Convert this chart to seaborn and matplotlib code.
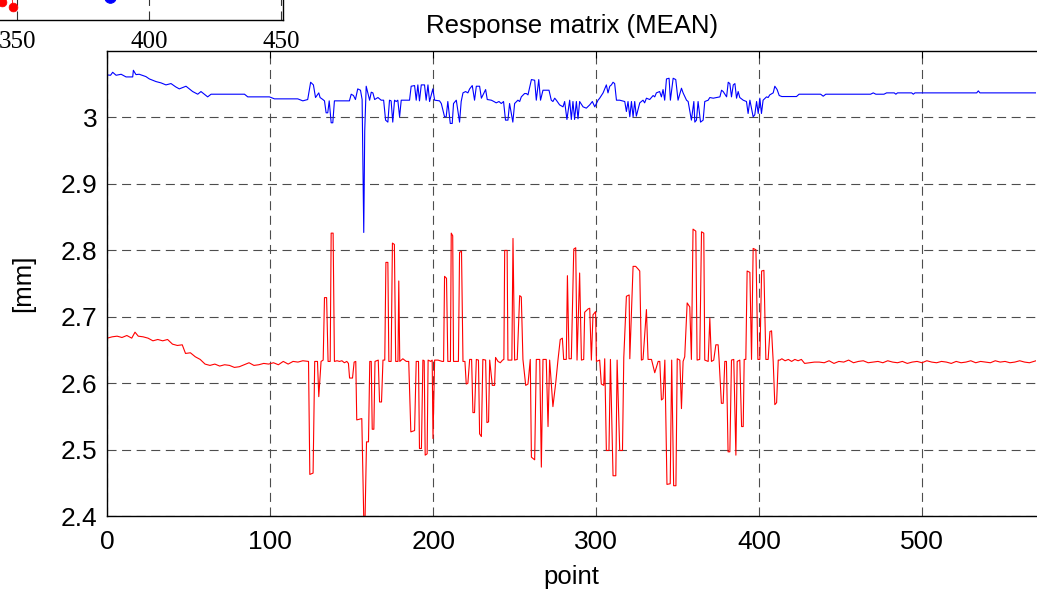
import numpy as np
import pandas as pd
import matplotlib
matplotlib.use("Agg")
import matplotlib.pyplot as plt
import seaborn as sns

# ---- data (point index, value in mm) ----
red_pts = [
    (0, 2.668), (3, 2.670), (6, 2.671), (9, 2.669), (12, 2.672), (15, 2.668), (17, 2.677), (19, 2.671),
    (22, 2.670), (25, 2.668), (28, 2.664), (31, 2.666), (34, 2.664), (37, 2.666), (40, 2.659), (43, 2.657),
    (46, 2.658), (48, 2.645), (51, 2.646), (54, 2.640), (57, 2.636), (60, 2.629), (63, 2.627), (66, 2.629),
    (69, 2.626), (72, 2.628), (75, 2.627), (78, 2.624), (81, 2.625), (84, 2.628), (87, 2.631), (90, 2.627),
    (93, 2.628), (96, 2.630), (99, 2.629), (102, 2.631), (105, 2.628), (108, 2.633), (111, 2.629), (114, 2.633),
    (117, 2.632), (120, 2.634), (123.5, 2.633),
    (124.3, 2.463), (126.3, 2.465), (127.3, 2.633), (129.0, 2.633), (129.8, 2.580), (131.2, 2.633), (132.5, 2.635),
    (133.3, 2.729), (134.6, 2.729), (135.5, 2.633), (136.8, 2.633), (137.4, 2.826), (138.6, 2.826), (139.4, 2.633),
    (141.0, 2.634), (142.5, 2.633), (144.0, 2.634), (145.5, 2.631), (147.0, 2.633), (148.0, 2.630), (148.7, 2.608),
    (150.5, 2.608), (151.5, 2.632), (152.5, 2.633), (153.1, 2.545), (156.2, 2.547), (157.4, 2.397), (158.2, 2.397),
    (159.1, 2.512), (160.3, 2.512), (161.1, 2.633), (162.0, 2.633), (162.6, 2.531), (163.6, 2.531), (164.3, 2.633),
    (166.3, 2.635), (167.1, 2.572), (168.3, 2.572), (169.2, 2.635), (170.3, 2.635), (171.0, 2.782), (172.2, 2.782),
    (172.8, 2.633), (174.2, 2.633), (175.0, 2.811), (176.2, 2.809), (177.0, 2.633), (178.4, 2.633), (178.9, 2.754),
    (179.5, 2.633), (181.4, 2.637), (183.5, 2.633), (185.0, 2.633), (186.3, 2.527), (188.6, 2.529), (189.6, 2.633),
    (191.0, 2.633), (191.6, 2.502), (192.8, 2.502), (193.7, 2.635), (194.5, 2.634), (195.1, 2.492), (196.3, 2.494),
    (196.9, 2.635), (198.5, 2.633), (199.4, 2.635), (199.9, 2.517), (200.9, 2.635), (203.0, 2.635), (205.5, 2.633),
    (206.4, 2.633), (207.0, 2.761), (208.2, 2.758), (209.0, 2.633), (210.6, 2.633), (211.1, 2.826), (212.0, 2.822),
    (212.5, 2.633), (215.5, 2.633), (216.2, 2.797), (217.4, 2.799), (218.3, 2.633), (219.5, 2.633), (220.3, 2.599),
    (221.3, 2.600), (222.4, 2.636), (223.6, 2.636), (224.4, 2.556), (225.4, 2.556), (226.5, 2.636), (227.8, 2.635),
    (228.5, 2.524), (229.6, 2.520), (230.5, 2.636), (232.2, 2.635), (233.0, 2.541), (234.0, 2.542), (234.7, 2.635),
    (236.3, 2.597), (237.7, 2.597), (238.3, 2.639), (239.8, 2.633), (241.2, 2.631), (242.6, 2.635), (243.4, 2.636),
    (243.9, 2.800), (245.4, 2.800), (245.9, 2.635), (248.3, 2.635), (249.0, 2.818), (250.0, 2.635), (251.6, 2.636),
    (253.1, 2.732), (254.1, 2.730), (255.1, 2.636), (256.8, 2.597), (258.2, 2.599), (259.6, 2.636), (260.3, 2.489),
    (262.3, 2.485), (263.3, 2.636), (265.4, 2.636), (266.4, 2.474), (267.4, 2.636), (269.4, 2.636), (270.5, 2.535),
    (271.5, 2.635), (273.5, 2.565), (275.2, 2.600), (276.6, 2.635), (278.0, 2.666), (279.3, 2.668), (280.1, 2.636),
    (281.7, 2.636), (282.4, 2.762), (283.4, 2.637), (284.8, 2.637), (286.3, 2.802), (287.5, 2.804), (288.3, 2.635),
    (289.9, 2.766), (291.0, 2.635), (292.4, 2.636), (293.0, 2.707), (295.1, 2.712), (296.1, 2.713), (297.1, 2.635),
    (298.1, 2.703), (299.7, 2.708), (300.2, 2.633), (302.2, 2.635), (303.2, 2.599), (304.7, 2.597), (305.3, 2.637),
    (306.3, 2.499), (307.9, 2.499), (308.8, 2.636), (310.4, 2.461), (312.1, 2.461), (312.9, 2.635), (314.5, 2.499),
    (316.2, 2.499), (317.0, 2.639), (318.6, 2.731), (320.3, 2.733), (320.7, 2.637), (322.7, 2.776), (324.3, 2.776),
    (325.8, 2.772), (326.8, 2.769), (327.8, 2.635), (328.8, 2.636), (330.9, 2.711), (331.9, 2.636), (334.0, 2.636),
    (336.0, 2.616), (338.1, 2.633), (339.1, 2.633), (340.1, 2.575), (341.1, 2.577), (342.2, 2.635), (343.5, 2.448),
    (345.5, 2.449), (346.4, 2.635), (347.6, 2.446), (349.0, 2.446), (349.8, 2.637),
    (351.4, 2.635), (352.4, 2.562), (353.4, 2.633), (354.4, 2.640), (355.9, 2.721), (357.5, 2.715), (358.5, 2.636),
    (359.5, 2.832), (361.2, 2.829), (362.0, 2.635), (363.6, 2.636), (364.7, 2.828), (366.1, 2.826), (366.7, 2.635),
    (368.8, 2.633), (369.8, 2.698), (370.8, 2.633), (372.2, 2.635), (373.5, 2.658), (374.9, 2.658), (375.5, 2.635),
    (376.9, 2.570), (378.0, 2.570), (379.0, 2.633), (380.0, 2.633), (381.0, 2.497), (382.1, 2.497), (383.1, 2.635),
    (384.5, 2.636), (385.8, 2.492), (386.6, 2.633), (388.2, 2.635), (389.3, 2.535), (390.3, 2.535), (390.9, 2.636),
    (391.9, 2.636), (392.7, 2.769), (394.4, 2.767), (395.4, 2.636), (396.4, 2.803), (398.1, 2.801), (399.3, 2.636),
    (400.5, 2.636), (401.6, 2.769), (403.0, 2.770), (404.2, 2.636), (405.6, 2.636), (406.7, 2.678), (407.7, 2.679),
    (408.7, 2.633), (409.7, 2.568), (410.8, 2.571), (411.8, 2.635), (412.8, 2.635),
    (414, 2.637), (416, 2.634), (418, 2.636), (420, 2.633), (422, 2.636), (424, 2.634), (426, 2.636), (428, 2.630),
    (431, 2.631), (434, 2.632), (437, 2.632), (440, 2.631), (443, 2.634), (446, 2.630), (449, 2.633), (452, 2.632),
    (455, 2.635), (458, 2.631), (461, 2.633), (464, 2.634), (467, 2.631), (470, 2.632), (473, 2.633), (476, 2.631),
    (479, 2.634), (482, 2.632), (485, 2.631), (488, 2.633), (491, 2.630), (494, 2.632), (497, 2.633), (500, 2.631),
    (503, 2.634), (506, 2.632), (509, 2.631), (512, 2.633), (515, 2.632), (518, 2.630), (521, 2.633), (524, 2.631),
    (527, 2.632), (530, 2.634), (533, 2.631), (536, 2.633), (539, 2.632), (542, 2.631), (545, 2.634), (548, 2.632),
    (551, 2.633), (554, 2.631), (557, 2.632), (560, 2.634), (563, 2.632), (566, 2.631), (570, 2.634),
]

blue_pts = [
    (0, 3.064), (2, 3.0635), (3.3, 3.068), (5.4, 3.0635), (8.5, 3.065), (11.5, 3.061), (15.6, 3.061), (16.0, 3.071),
    (17.6, 3.0645), (19.6, 3.065), (23.7, 3.0615), (25.8, 3.058), (29.9, 3.054), (33.0, 3.052), (36.0, 3.049),
    (39.1, 3.051), (42.0, 3.046), (44.2, 3.043), (48.3, 3.047), (52.4, 3.039), (55.5, 3.035), (57.5, 3.039),
    (61.6, 3.031), (63.7, 3.035), (84.2, 3.035), (86.2, 3.031), (99.5, 3.031), (102.6, 3.028), (116.9, 3.028),
    (120.0, 3.025), (123.0, 3.027), (124.8, 3.053), (126.5, 3.049), (127.8, 3.030), (129.8, 3.037), (130.6, 3.030),
    (132.3, 3.027), (133.3, 3.025), (134.3, 3.007), (135.3, 3.007), (136.2, 3.025), (137.4, 2.992), (138.4, 2.992),
    (139.4, 3.025), (148.6, 3.025), (149.7, 3.035), (151.1, 3.033), (152.3, 3.027), (153.7, 3.043), (155.4, 3.041),
    (156.4, 3.027), (157.4, 2.827), (158.0, 2.980), (158.9, 3.047), (159.9, 3.037), (161.0, 3.026), (162.0, 3.038),
    (163.0, 3.037), (164.1, 3.027), (166.1, 3.030), (168.1, 3.026), (169.6, 3.026), (170.8, 2.996), (172.2, 2.993),
    (173.2, 3.026), (174.2, 3.025), (175.2, 2.993), (176.3, 3.026), (177.3, 3.024), (178.3, 3.026), (179.4, 3.001),
    (180.4, 3.026), (185.5, 3.026), (186.5, 3.047), (188.6, 3.048), (189.6, 3.026), (190.6, 3.049), (191.6, 3.025),
    (192.7, 3.049), (194.7, 3.049), (195.7, 3.026), (196.8, 3.049), (197.8, 3.024), (199.8, 3.043), (200.9, 3.026),
    (203.9, 3.025), (205.0, 3.021), (207.0, 3.001), (208.0, 3.001), (209.0, 3.024), (210.5, 2.991), (211.7, 2.991),
    (212.5, 3.021), (214.2, 3.026), (216.2, 2.993), (217.2, 3.024), (218.3, 3.037), (219.9, 3.039), (221.3, 3.037),
    (222.4, 3.043), (224.0, 3.048), (225.4, 3.026), (226.5, 3.047), (228.5, 3.047), (229.6, 3.029), (230.6, 3.034),
    (232.2, 3.042), (233.2, 3.027), (235.7, 3.026), (237.3, 3.024), (238.7, 3.022), (240.4, 3.024), (241.8, 3.021),
    (243.2, 3.024), (244.4, 2.996), (245.9, 2.996), (246.9, 3.021), (248.9, 2.993), (250.0, 3.021), (252.0, 3.026),
    (253.1, 3.024), (254.1, 3.031), (256.1, 3.036), (257.2, 3.036), (258.2, 3.034), (260.3, 3.057), (262.3, 3.056),
    (263.3, 3.026), (264.8, 3.057), (265.9, 3.026), (267.4, 3.041), (269.4, 3.041), (271.1, 3.041), (272.5, 3.026),
    (273.5, 3.024), (274.6, 3.029), (275.6, 3.026), (277.6, 3.019), (279.7, 3.016), (280.7, 3.024), (282.1, 2.997),
    (283.8, 3.026), (284.8, 2.997), (285.8, 3.024), (286.8, 2.997), (287.9, 3.024), (288.9, 2.998), (289.9, 3.024),
    (292.0, 3.016), (294.0, 3.014), (296.1, 3.019), (297.7, 3.024), (299.2, 3.016), (301.2, 3.026), (302.2, 3.029),
    (304.3, 3.037), (306.3, 3.049), (307.3, 3.037), (308.4, 3.047), (309.4, 3.049), (310.4, 3.053), (311.4, 3.051),
    (312.5, 3.026), (314.5, 3.026), (317.6, 3.024), (318.6, 3.009), (319.6, 3.024), (320.7, 3.001), (321.7, 3.024),
    (322.7, 3.001), (323.7, 3.024), (324.7, 3.002), (326.8, 3.022), (328.8, 3.026), (329.8, 3.022), (330.9, 3.029),
    (332.9, 3.027), (335.0, 3.033), (336.0, 3.031), (337.0, 3.037), (339.0, 3.039), (340.1, 3.031), (341.1, 3.042),
    (342.1, 3.026), (343.2, 3.058), (344.8, 3.059), (345.6, 3.026), (347.3, 3.059), (348.9, 3.057), (350.3, 3.026),
    (352.4, 3.044), (353.4, 3.037), (355.5, 3.026), (356.5, 3.024), (358.5, 2.996), (360.0, 3.024), (360.6, 2.993),
    (361.6, 2.996), (362.6, 3.024), (364.1, 2.993), (365.7, 2.996), (366.7, 3.024), (368.8, 3.026), (369.8, 3.030),
    (371.9, 3.029), (373.9, 3.030), (376.0, 3.031), (377.0, 3.041), (378.0, 3.039), (380.1, 3.031), (381.1, 3.053),
    (382.1, 3.051), (383.1, 3.031), (384.2, 3.049), (385.2, 3.051), (386.2, 3.029), (387.2, 3.039), (388.2, 3.030),
    (390.3, 3.026), (392.3, 3.024), (393.3, 3.006), (394.4, 3.026), (396.4, 3.001), (397.4, 3.004), (398.5, 3.024),
    (399.5, 3.006), (400.5, 3.029), (401.5, 3.006), (402.5, 3.026), (404.6, 3.031), (405.6, 3.030), (406.6, 3.034),
    (408.7, 3.037), (409.7, 3.047), (411.1, 3.042), (412.4, 3.033),
    (414, 3.0315), (423, 3.0315), (424.6, 3.035), (437.8, 3.035), (439.4, 3.032), (441, 3.035), (468.5, 3.035),
    (470.1, 3.037), (471.7, 3.035), (476.7, 3.035), (478.3, 3.037), (483, 3.037), (484, 3.035), (485, 3.037),
    (493.7, 3.037), (494.7, 3.035), (495.7, 3.037), (533.6, 3.037), (534.6, 3.040), (535.6, 3.037), (570, 3.037),
]

y_ticks = [2.4, 2.5, 2.6, 2.7, 2.8, 2.9, 3.0]
y_tick_labels = ["2.4", "2.5", "2.6", "2.7", "2.8", "2.9", "3"]
x_ticks = [0, 100, 200, 300, 400, 500]

# fragment of a neighbouring figure visible in the top-left corner
frag_ticks = [350, 400, 450]
frag_red_x = [344.2, 348.4]
frag_red_y = [0.31, 0.22]
frag_blue_x = [385.3]
frag_blue_y = [0.38]

red = pd.DataFrame(red_pts, columns=["point", "mm"])
blue = pd.DataFrame(blue_pts, columns=["point", "mm"])

sns.set_theme(style="white")
plt.rcParams["font.family"] = ["Liberation Sans", "DejaVu Sans"]
plt.rcParams["lines.scale_dashes"] = False

fig = plt.figure(figsize=(10.37, 5.93), dpi=100)
ax = fig.add_axes([107.3 / 1037, (593 - 516.3) / 593, (1036 - 107.3) / 1037, (516.3 - 51) / 593])

sns.lineplot(data=blue, x="point", y="mm", color="#0000ff", lw=0.8, sort=False, estimator=None, ax=ax)
sns.lineplot(data=red, x="point", y="mm", color="#ff0000", lw=0.8, sort=False, estimator=None, ax=ax)

ax.set_xlim(0, 570)
ax.set_ylim(2.4, 3.1)
ax.set_xticks(x_ticks)
ax.set_yticks(y_ticks)
ax.set_yticklabels(y_tick_labels)
ax.set_axisbelow(True)
grid_dash = (0, (6.5, 4.0))
ax.grid(True, color="0.3", linestyle=grid_dash, linewidth=0.8)
for s in ["left", "bottom", "top"]:
    ax.spines[s].set_color("black")
    ax.spines[s].set_linewidth(1.0)
ax.spines["right"].set_visible(False)
ax.tick_params(axis="both", direction="in", length=5, width=0.8, color="black",
               top=True, right=False, labelsize=19, labelcolor="black")
ax.tick_params(axis="x", pad=10)
ax.tick_params(axis="y", pad=7)

ax.set_title("Response matrix (MEAN)", fontsize=18.5, pad=13, color="black")
ax.set_xlabel("point", fontsize=18.5, color="black")
ax.set_ylabel("[mm]", fontsize=18.5, color="black")
ax.xaxis.set_label_coords(0.5, -0.105)
ax.yaxis.set_label_coords(-0.078, 0.5)

# neighbouring figure fragment
fx = fig.add_axes([0, (593 - 20) / 593, 283 / 1037, 0.1])
fx.set_xlim(343.56, 450.76)
fx.set_ylim(0, 1)
sns.lineplot(x=[343.9, 344.2, 348.0, 348.4], y=[0.9, 0.31, 0.5, 0.22], color="#ff0000", lw=0.6,
             sort=False, estimator=None, ax=fx)
sns.scatterplot(x=frag_red_x, y=frag_red_y, color="#ff0000", s=40, edgecolor="#ff0000", ax=fx)
sns.scatterplot(x=frag_blue_x, y=frag_blue_y, color="#0000ff", s=70, edgecolor="#0000ff", ax=fx)
fx.set_xticks(frag_ticks)
fx.set_xticklabels([str(t) for t in frag_ticks], family=["Liberation Serif", "DejaVu Serif"], fontsize=18)
fx.set_yticks([])
fx.set_xlabel("")
fx.set_ylabel("")
fx.grid(True, axis="x", color="0.2", linestyle=grid_dash, linewidth=0.8)
for s in ["bottom", "right"]:
    fx.spines[s].set_color("black")
    fx.spines[s].set_linewidth(1.0)
fx.spines["left"].set_visible(False)
fx.spines["top"].set_visible(False)
fx.tick_params(axis="x", direction="in", length=5, width=0.8, color="black", pad=8, labelcolor="black")

fig.savefig("out.png", dpi=100)
